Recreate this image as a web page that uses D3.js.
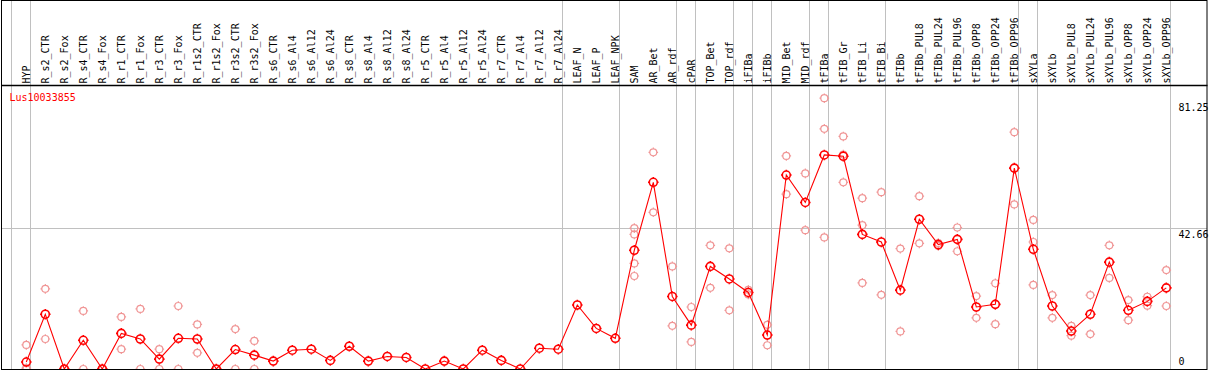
<!DOCTYPE html>
<html>
<head>
<meta charset="utf-8">
<script src="https://cdn.jsdelivr.net/npm/d3@7"></script>
<style>
  body { margin: 0; background: #fff; }
  text { font-family: "DejaVu Sans Mono", monospace; font-size: 10px; }
</style>
</head>
<body>
<div id="chart"></div>
<script>
var geneName = "Lus10033855";

var samples = ["HYP", "R_s2_CTR", "R_s2_Fox", "R_s4_CTR", "R_s4_Fox", "R_r1_CTR", "R_r1_Fox",
  "R_r3_CTR", "R_r3_Fox", "R_r1s2_CTR", "R_r1s2_Fox", "R_r3s2_CTR", "R_r3s2_Fox", "R_s6_CTR",
  "R_s6_Al4", "R_s6_Al12", "R_s6_Al24", "R_s8_CTR", "R_s8_Al4", "R_s8_Al12", "R_s8_Al24",
  "R_r5_CTR", "R_r5_Al4", "R_r5_Al12", "R_r5_Al24", "R_r7_CTR", "R_r7_Al4", "R_r7_Al12",
  "R_r7_Al24", "LEAF_N", "LEAF_P", "LEAF_NPK", "SAM", "AR_Bet", "AR_rdf", "cPAR", "TOP_Bet",
  "TOP_rdf", "iFIBa", "iFIBb", "MID_Bet", "MID_rdf", "tFIBa", "tFIB_Gr", "tFIB_Li", "tFIB_Bi",
  "tFIBb", "tFIBb_PUL8", "tFIBb_PUL24", "tFIBb_PUL96", "tFIBb_OPP8", "tFIBb_OPP24", "tFIBb_OPP96",
  "sXYLa", "sXYLb", "sXYLb_PUL8", "sXYLb_PUL24", "sXYLb_PUL96", "sXYLb_OPP8", "sXYLb_OPP24",
  "sXYLb_OPP96"];

// mean expression per sample
var means = [2.1, 16.6, 0, 8.7, 0, 10.8, 9.1, 3.0, 9.3, 9.1, 0, 5.9, 4.2, 2.4,
  5.7, 6.0, 2.6, 6.9, 2.4, 3.8, 3.5, 0, 2.4, 0, 5.7, 2.6, 0, 6.3, 6.0,
  19.4, 12.3, 9.3, 36.0, 56.6, 22.0, 13.3, 31.1, 27.3, 23.2, 10.3, 58.8, 50.5,
  64.9, 64.5, 40.8, 38.5, 23.9, 45.4, 37.7, 39.3, 18.8, 19.6, 60.9,
  36.3, 19.1, 11.5, 16.6, 32.4, 17.8, 20.5, 24.6];

// replicate values per sample (empty = single measurement)
var replicates = [[7.3, 0.3, 0], [24.3, 9.1], [0, 0], [17.6, 0], [0, 0], [15.8, 6.0], [18.2, 0],
  [6.0, 0], [19.1, 0], [13.5, 4.9], [0, 0], [12.1, 0], [8.5, 0], [],
  [], [], [], [], [], [], [], [], [], [], [], [], [], [], [],
  [], [], [], [42.7, 40.8, 32.0, 28.2], [65.7, 47.5], [31.1, 13.1], [18.8, 8.2], [37.5, 24.6],
  [36.6, 17.8], [24.0, 22.6], [13.4, 7.2], [64.6, 53.0], [59.3, 42.1],
  [82.1, 72.8, 39.9], [70.5, 65.0, 56.6], [51.8, 43.6, 26.1], [53.6, 22.5],
  [36.5, 11.4], [52.4, 38.1], [38.2, 37.3], [42.9, 35.7], [22.1, 15.5], [26.0, 13.6], [71.8, 49.9],
  [45.2, 38.5, 25.5], [22.4, 15.5], [13.1, 10.1], [22.4, 10.6], [37.5, 27.6], [20.9, 14.8],
  [21.9, 19.2], [30.0, 19.1]];

// last sample of each tissue group (a grey separator is drawn after it)
var groupEnds = ["HYP", "R_r7_Al24", "LEAF_NPK", "AR_rdf", "cPAR", "TOP_rdf", "iFIBa", "iFIBb",
  "MID_rdf", "tFIBa", "tFIB_Bi", "tFIBb_OPP96", "sXYLa", "sXYLb_OPP96"];

var yTicks = [0, 42.66, 81.25];
var yTickLabels = ["0", "42.66", "81.25"];
var yMax = 85.3125;

var width = 1209, height = 370;
var headerBottom = 85, plotBottom = 369;

var svg = d3.select("#chart")
  .append("svg")
  .attr("width", width)
  .attr("height", height);

var x = d3.scalePoint()
  .domain(samples)
  .range([26.3, 1166.3]);

var y = d3.scaleLinear()
  .domain([0, yMax])
  .range([plotBottom, 87.6]);

var grid = "#c0c0c0";

// vertical group separators, through the header as well
var sepX = [x(samples[0]) - x.step() + 4].concat(groupEnds.map(d => x(d) + 4));
svg.append("g")
  .selectAll("line")
  .data(sepX)
  .join("line")
  .attr("x1", d => Math.round(d) + 0.5)
  .attr("x2", d => Math.round(d) + 0.5)
  .attr("y1", 0)
  .attr("y2", plotBottom)
  .attr("stroke", grid);

// middle horizontal line
svg.append("line")
  .attr("x1", 1).attr("x2", 1207)
  .attr("y1", Math.round(y(yTicks[1])) + 0.5)
  .attr("y2", Math.round(y(yTicks[1])) + 0.5)
  .attr("stroke", grid);

// header labels
svg.append("g")
  .selectAll("text")
  .data(samples)
  .join("text")
  .attr("transform", d => "translate(" + (x(d) + 3.5) + ",83.5) rotate(-90)")
  .attr("fill", "#000")
  .text(d => d);

svg.append("clipPath")
  .attr("id", "plotclip")
  .append("rect")
  .attr("x", 1).attr("y", headerBottom)
  .attr("width", 1206).attr("height", plotBottom - headerBottom);

var plot = svg.append("g").attr("clip-path", "url(#plotclip)");

// marker: circle with four small ticks
function marker(r) {
  var t = r + 1.3;
  return d3.path().toString() +
    "M" + r + ",0A" + r + "," + r + " 0 1,1 " + (-r) + ",0A" + r + "," + r + " 0 1,1 " + r + ",0" +
    "M0," + (-r) + "V" + (-t) + "M0," + r + "V" + t +
    "M" + (-r) + ",0H" + (-t) + "M" + r + ",0H" + t;
}

var repPoints = [];
samples.forEach(function (s, i) {
  replicates[i].forEach(function (v) { repPoints.push({ sample: s, value: v }); });
});

plot.append("g")
  .selectAll("path")
  .data(repPoints)
  .join("path")
  .attr("transform", d => "translate(" + x(d.sample) + "," + y(d.value) + ")")
  .attr("d", marker(3.5))
  .attr("fill", "none")
  .attr("stroke", "#f09595")
  .attr("stroke-width", 1.2);

var meanData = samples.map((s, i) => ({ sample: s, value: means[i] }));

var line = d3.line()
  .x(d => x(d.sample))
  .y(d => y(d.value));

plot.append("path")
  .datum(meanData)
  .attr("fill", "none")
  .attr("stroke", "#ff0000")
  .attr("stroke-width", 1.1)
  .attr("d", line);

plot.append("g")
  .selectAll("path")
  .data(meanData)
  .join("path")
  .attr("transform", d => "translate(" + x(d.sample) + "," + y(d.value) + ")")
  .attr("d", marker(4))
  .attr("fill", "none")
  .attr("stroke", "#ff0000")
  .attr("stroke-width", 1.6);

// y labels on the right
svg.append("g")
  .selectAll("text")
  .data(yTicks)
  .join("text")
  .attr("x", 1178.5)
  .attr("y", d => Math.min(y(d) + 10, plotBottom - 4))
  .attr("fill", "#000")
  .text((d, i) => yTickLabels[i]);

svg.append("text")
  .attr("x", 9.5)
  .attr("y", 101)
  .attr("fill", "#ff0000")
  .text(geneName);

// frame
svg.append("rect")
  .attr("x", 1.5).attr("y", 0.5)
  .attr("width", 1205.5).attr("height", plotBottom)
  .attr("fill", "none")
  .attr("stroke", "#000");

svg.append("line")
  .attr("x1", 1).attr("x2", 1207.5)
  .attr("y1", headerBottom + 0.5).attr("y2", headerBottom + 0.5)
  .attr("stroke", "#000")
  .attr("stroke-width", 1.5);
</script>
</body>
</html>
